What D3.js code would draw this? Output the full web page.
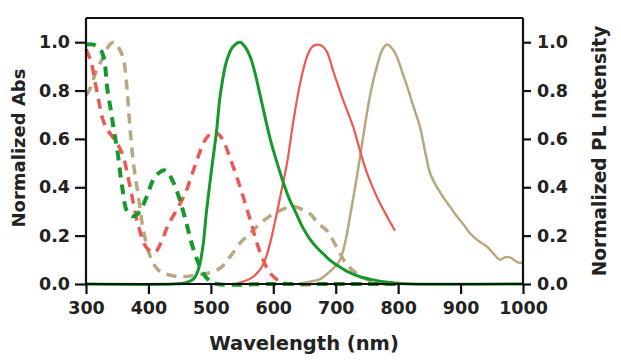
<!DOCTYPE html>
<html>
<head>
<meta charset="utf-8">
<script src="https://cdn.jsdelivr.net/npm/d3@7"></script>
<style>
  body { margin: 0; background: #fff; }
  text { font-family: "DejaVu Sans", Arial, sans-serif; font-weight: bold; fill: #222; }
</style>
</head>
<body>
<div id="chart"></div>
<script>
// absorption (dashed)
var greenAbsNm = [300, 312, 323, 329, 334, 340, 345, 350, 358, 366, 376, 386, 397, 411, 427, 440, 450, 460, 469, 480, 490, 500, 510, 600, 700, 800];
var greenAbs   = [0.99, 0.99, 0.97, 0.93, 0.81, 0.715, 0.63, 0.556, 0.40, 0.30, 0.28, 0.30, 0.36, 0.445, 0.47, 0.42, 0.35, 0.26, 0.17, 0.087, 0.035, 0.01, 0, 0, 0, 0];
var redAbsNm = [300, 308, 315, 321, 327, 335, 345, 358, 370, 384, 397, 410, 420, 431, 446, 459, 472, 483, 492, 504, 514, 522, 531, 547, 563, 579, 595, 610, 625, 700, 800];
var redAbs   = [0.97, 0.92, 0.83, 0.75, 0.68, 0.635, 0.60, 0.54, 0.41, 0.24, 0.15, 0.13, 0.17, 0.24, 0.31, 0.375, 0.47, 0.55, 0.60, 0.63, 0.615, 0.58, 0.52, 0.40, 0.265, 0.13, 0.045, 0.012, 0, 0, 0];
var tanAbsNm = [300, 305, 315, 322, 330, 338, 346, 354, 360, 366, 370, 376, 384, 392, 405, 415, 424, 451, 477, 495, 515, 530, 547, 563, 579, 600, 616, 632, 645, 659, 672, 686, 702, 715, 730, 745, 760, 780];
var tanAbs   = [0.78, 0.80, 0.87, 0.91, 0.95, 0.99, 1.0, 0.97, 0.93, 0.80, 0.66, 0.50, 0.36, 0.22, 0.10, 0.06, 0.045, 0.03, 0.037, 0.045, 0.066, 0.11, 0.17, 0.21, 0.25, 0.29, 0.31, 0.32, 0.31, 0.29, 0.25, 0.22, 0.15, 0.09, 0.05, 0.025, 0.01, 0];

// photoluminescence (solid)
var greenPLNm = [300, 440, 460, 472, 480, 487, 493, 500, 509, 515, 525, 535, 547, 555, 563, 571, 579, 595, 605, 616, 626, 637, 648, 659, 670, 680, 690, 702, 720, 739, 760, 780, 800, 820, 1000];
var greenPL   = [0, 0, 0.005, 0.02, 0.06, 0.15, 0.30, 0.45, 0.63, 0.78, 0.92, 0.98, 1.0, 0.98, 0.94, 0.87, 0.78, 0.60, 0.51, 0.42, 0.35, 0.29, 0.23, 0.185, 0.15, 0.125, 0.10, 0.078, 0.05, 0.03, 0.017, 0.008, 0.003, 0, 0];
var redPLNm = [540, 552, 565, 579, 587, 595, 603, 611, 622, 632, 643, 654, 662, 670, 678, 686, 696, 712, 728, 739, 750, 766, 782, 795];
var redPL   = [0, 0.01, 0.025, 0.06, 0.10, 0.17, 0.26, 0.36, 0.50, 0.67, 0.83, 0.94, 0.98, 0.99, 0.985, 0.96, 0.88, 0.76, 0.65, 0.55, 0.46, 0.36, 0.28, 0.22];
var tanPLNm = [640, 660, 675, 690, 700, 707, 715, 723, 734, 744, 755, 766, 775, 782, 790, 798, 806, 814, 825, 835, 843, 851, 860, 872, 883, 894, 905, 915, 928, 942, 953, 963, 971, 979, 988, 995, 1000];
var tanPL   = [0, 0.01, 0.02, 0.05, 0.075, 0.10, 0.17, 0.28, 0.445, 0.61, 0.78, 0.90, 0.97, 0.99, 0.975, 0.94, 0.88, 0.82, 0.73, 0.65, 0.55, 0.46, 0.41, 0.36, 0.32, 0.28, 0.245, 0.21, 0.18, 0.155, 0.125, 0.10, 0.11, 0.11, 0.095, 0.087, 0.09];

var xTicks = [300, 400, 500, 600, 700, 800, 900, 1000];
var yTicks = [0, 0.2, 0.4, 0.6, 0.8, 1.0];

var W = 621, H = 360;
var plotL = 86, plotR = 523, plotT = 18, plotB = 284;

var svg = d3.select("#chart").append("svg")
  .attr("width", W)
  .attr("height", H);

var x = d3.scaleLinear().domain([300, 1000]).range([plotL, plotR]);
var y = d3.scaleLinear().domain([0, 1.1]).range([plotB, plotT]);

var green = "#16992a", red = "#ea5a52", tan = "#b8a882";

function draw(nm, vals, color, width, dash) {
  var pts = nm.map(function (d, i) { return [d, vals[i]]; });
  var line = d3.line()
    .x(function (d) { return x(d[0]); })
    .y(function (d) { return Math.min(y(d[1]), plotB); })
    .curve(d3.curveCatmullRom.alpha(0.5));
  var p = svg.append("path")
    .datum(pts)
    .attr("d", line)
    .attr("fill", "none")
    .attr("stroke", color)
    .attr("stroke-width", width)
    .attr("stroke-linejoin", "round");
  if (dash) p.attr("stroke-dasharray", dash);
}

// dashed absorption first, solid PL on top
draw(tanAbsNm, tanAbs, tan, 3.5, "10,7");
draw(redAbsNm, redAbs, red, 3.5, "10,7");
draw(greenAbsNm, greenAbs, green, 4, "10,7");
draw(tanPLNm, tanPL, tan, 2.5);
draw(redPLNm, redPL, red, 2.2);
draw(greenPLNm, greenPL, green, 3);

// top border
svg.append("line")
  .attr("x1", plotL).attr("x2", plotR)
  .attr("y1", plotT).attr("y2", plotT)
  .attr("stroke", "#111").attr("stroke-width", 2);

var xAxis = svg.append("g")
  .attr("transform", "translate(0," + plotB + ")")
  .call(d3.axisBottom(x).tickValues(xTicks).tickSize(10).tickPadding(8).tickFormat(d3.format("d")));
var yAxisL = svg.append("g")
  .attr("transform", "translate(" + plotL + ",0)")
  .call(d3.axisLeft(y).tickValues(yTicks).tickSize(11).tickPadding(5).tickFormat(d3.format(".1f")));
var yAxisR = svg.append("g")
  .attr("transform", "translate(" + plotR + ",0)")
  .call(d3.axisRight(y).tickValues(yTicks).tickSize(8).tickPadding(6).tickFormat(d3.format(".1f")));

[xAxis, yAxisL, yAxisR].forEach(function (g) {
  g.select(".domain").attr("stroke", "#111").attr("stroke-width", 2.2);
  g.selectAll(".tick line").attr("stroke", "#111").attr("stroke-width", 2.2);
  g.selectAll(".tick text")
    .attr("fill", "#222")
    .style("font-family", "'DejaVu Sans', Arial, sans-serif")
    .style("font-weight", "bold")
    .style("font-size", "17.5px");
});
// axis lines span full frame height
yAxisL.select(".domain").attr("d", "M0," + plotB + "V" + plotT);
yAxisR.select(".domain").attr("d", "M0," + plotB + "V" + plotT);
xAxis.select(".domain").attr("d", "M" + plotL + ",0H" + plotR);

svg.append("text")
  .attr("x", 304)
  .attr("y", 350)
  .attr("text-anchor", "middle")
  .style("font-size", "19.5px")
  .text("Wavelength (nm)");

svg.append("text")
  .attr("transform", "translate(25,148) rotate(-90)")
  .attr("text-anchor", "middle")
  .style("font-size", "18px")
  .text("Normalized Abs");

svg.append("text")
  .attr("transform", "translate(606,151) rotate(-90)")
  .attr("text-anchor", "middle")
  .style("font-size", "18.6px")
  .text("Normalized PL Intensity");
</script>
</body>
</html>
